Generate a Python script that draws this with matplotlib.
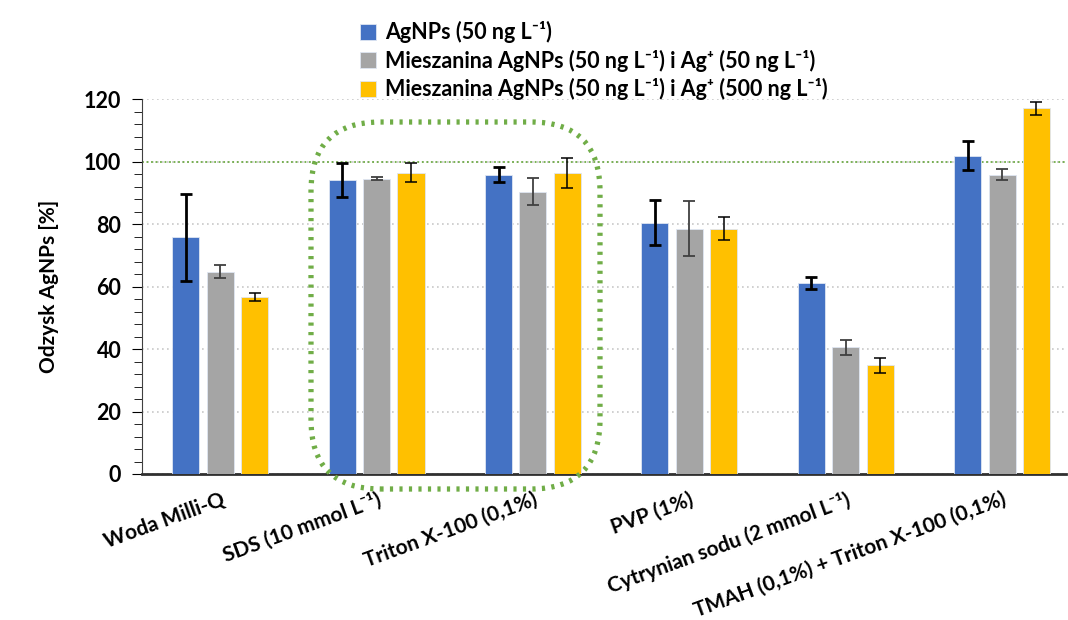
import matplotlib.pyplot as plt
import numpy as np
from matplotlib.patches import FancyBboxPatch

plt.rcParams['font.family'] = ['Lato', 'DejaVu Sans']
plt.rcParams['font.weight'] = 'bold'

categories = ['Woda Milli-Q', 'SDS (10 mmol L\u207b\u00b9)', 'Triton X-100 (0,1%)',
              'PVP (1%)', 'Cytrynian sodu (2 mmol L\u207b\u00b9)',
              'TMAH (0,1%) + Triton X-100 (0,1%)']
series_labels = ['AgNPs (50 ng L\u207b\u00b9)',
                 'Mieszanina AgNPs (50 ng L\u207b\u00b9) i Ag\u207a (50 ng L\u207b\u00b9)',
                 'Mieszanina AgNPs (50 ng L\u207b\u00b9) i Ag\u207a (500 ng L\u207b\u00b9)']

agnps = [75.8, 94.1, 95.9, 80.5, 61.2, 102.0]
agnps_err = [14.0, 5.4, 2.3, 7.2, 2.0, 4.6]
mix_50 = [64.8, 94.6, 90.4, 78.6, 40.6, 95.9]
mix_50_err = [2.0, 0.5, 4.3, 8.7, 2.4, 1.8]
mix_500 = [56.7, 96.5, 96.5, 78.6, 34.8, 117.1]
mix_500_err = [1.3, 3.1, 4.8, 3.7, 2.3, 2.1]

colors = ['#4472C4', '#A5A5A5', '#FFC000']
err_colors = ['black', '#404040', 'black']
err_lw = [2.0, 1.3, 1.1]

fig = plt.figure(figsize=(10.68, 6.2), dpi=100)
ax = fig.add_axes([0.133, 0.2355, 0.865, 0.6043])

x = np.arange(len(categories))
offset = 0.22
width = 0.173
for i, (vals, errs) in enumerate([(agnps, agnps_err), (mix_50, mix_50_err), (mix_500, mix_500_err)]):
    pos = x + (i - 1) * offset
    ax.bar(pos, vals, width, color=colors[i], edgecolor='#dfe6f2', linewidth=0.6,
           label=series_labels[i], zorder=3)
    ax.errorbar(pos, vals, yerr=errs, fmt='none', ecolor=err_colors[i],
                elinewidth=err_lw[i], capsize=4, capthick=err_lw[i], zorder=4)

ax.set_ylim(0, 120)
ax.set_xlim(-0.5, 5.408)
ax.set_yticks(np.arange(0, 121, 20))
ax.set_yticks(np.arange(0, 121, 4), minor=True)
ax.tick_params(axis='y', which='major', labelsize=15.5, length=7, direction='out', pad=8)
ax.tick_params(axis='y', which='minor', length=6, direction='out')
ax.tick_params(axis='x', length=0)
ax.yaxis.grid(True, linestyle=(0, (1, 2)), color='#c8c8c8', linewidth=1.2, zorder=0)
ax.axhline(100, color='#70AD47', linestyle=(0, (1, 1.5)), linewidth=1.3, zorder=2)

for side in ['top', 'right']:
    ax.spines[side].set_visible(False)
ax.spines['left'].set_color('#404040')
ax.spines['bottom'].set_linewidth(2)
ax.spines['bottom'].set_color('#303030')

ax.set_xticks(x)
ax.set_xticklabels(categories, rotation=20, ha='right', rotation_mode='anchor',
                   fontsize=15, fontweight='bold')
ax.tick_params(axis='x', pad=11)

ax.set_ylabel('Odzysk AgNPs [%]', fontsize=15, fontweight='bold', labelpad=18)

# highlight around the SDS and Triton groups
box = FancyBboxPatch((311 / 1068, 1 - 489 / 620), (600 - 311) / 1068, (489 - 122) / 620,
                     boxstyle='round,pad=0,rounding_size=0.065', transform=fig.transFigure,
                     fill=False, edgecolor='#70AD47', linewidth=3.8,
                     linestyle=(0, (0.6, 1.2)), clip_on=False, zorder=5,
                     mutation_aspect=1068 / 620)
fig.add_artist(box)

fig.legend(*ax.get_legend_handles_labels(), loc='upper left',
           bbox_to_anchor=(345 / 1068, 1 - 6 / 620), frameon=False, fontsize=15.5,
           handlelength=0.75, handleheight=0.75, handletextpad=0.4, labelspacing=0.3,
           borderpad=0.2)

fig.savefig('out.png', dpi=100)
